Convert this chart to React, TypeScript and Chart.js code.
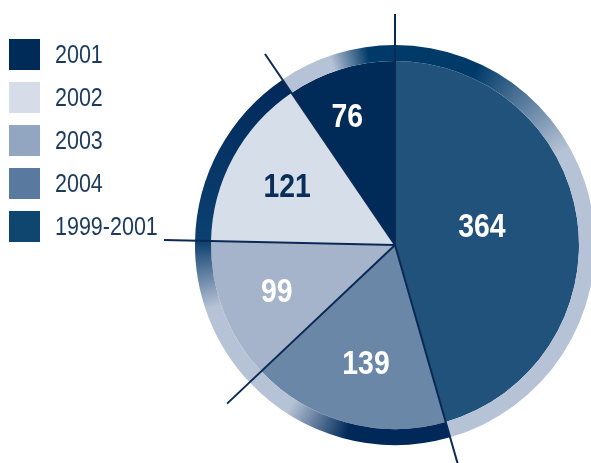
import React, { useEffect, useRef } from "react";
import { Chart, registerables } from "chart.js";
Chart.register(...registerables);

// ---- data ----
const categories = ["1999-2001", "2004", "2003", "2002", "2001"];
const values = [364, 139, 99, 121, 76];
const legendOrder = ["2001", "2002", "2003", "2004", "1999-2001"];

// ---- styles ----
const sliceColors = ["#20527c", "#6a87a8", "#a5b4cb", "#d6dee9", "#002a57"];
const legendColors = ["#002a57", "#d6dde8", "#93a6c1", "#5a799f", "#0e4670"]; // in legendOrder
const labelColors = ["#ffffff", "#ffffff", "#ffffff", "#0a2d5a", "#ffffff"];
const labelPlace = [
  { r: 0.485, da: -5 },
  { r: 0.655, da: -1.4 },
  { r: 0.688, da: 0 },
  { r: 0.671, da: 0.6 },
  { r: 0.753, da: -3 },
];
const DARK1 = "#003a68";
const DARK2 = "#00295a";
const LIGHT = "#b6c2d5";
const rimStops: [number, string][][] = [
  [[0, DARK1], [0.15, DARK1], [0.37, LIGHT], [1, LIGHT]],
  [[0, DARK2], [0.48, DARK2], [0.78, LIGHT], [1, LIGHT]],
  [[0, LIGHT], [0.55, LIGHT], [1, "#0b3f6e"]],
  [[0, "#0b4070"], [1, DARK2]],
  [[0, LIGHT], [0.44, LIGHT], [0.77, DARK1], [1, DARK1]],
];
const OUTER_R = 200;
const RIM_W = 16;
const PIE_W = 184;
const LINE_LEN = 231;
const LINE_COLOR = "#0a2a55";
const FONT = "'Liberation Sans', Arial, sans-serif";
const NARROW_X = 0.86;

function rimGradient(ctx: any) {
  const chart = ctx.chart;
  const a = chart.chartArea;
  if (!a) return LIGHT;
  const cx = (a.left + a.right) / 2;
  const cy = (a.top + a.bottom) / 2;
  const g = chart.ctx.createConicGradient(-Math.PI / 2, cx, cy);
  const total = values.reduce((s, v) => s + v, 0);
  let start = 0;
  values.forEach((v, i) => {
    rimStops[i].forEach(([f, c]) => {
      g.addColorStop(Math.min(1, Math.max(0, (start + f * v) / total)), c);
    });
    start += v;
  });
  return g;
}

const boundaryPlugin = {
  id: "boundaries",
  afterDatasetsDraw(chart: any) {
    const meta = chart.getDatasetMeta(1);
    const ctx = chart.ctx;
    ctx.save();
    ctx.strokeStyle = LINE_COLOR;
    ctx.lineWidth = 2;
    meta.data.forEach((arc: any) => {
      const { x, y, startAngle } = arc.getProps(["x", "y", "startAngle"], true);
      ctx.beginPath();
      ctx.moveTo(x, y);
      ctx.lineTo(x + LINE_LEN * Math.cos(startAngle), y + LINE_LEN * Math.sin(startAngle));
      ctx.stroke();
    });
    ctx.restore();
  },
};

const labelPlugin = {
  id: "sliceLabels",
  afterDatasetsDraw(chart: any) {
    const meta = chart.getDatasetMeta(1);
    const ctx = chart.ctx;
    const fs = 33;
    meta.data.forEach((arc: any, i: number) => {
      const { x, y, startAngle, endAngle, outerRadius } = arc.getProps(
        ["x", "y", "startAngle", "endAngle", "outerRadius"],
        true
      );
      const p = labelPlace[i];
      const mid = (startAngle + endAngle) / 2 + (p.da * Math.PI) / 180;
      const r = outerRadius * p.r;
      const lx = x + r * Math.cos(mid);
      const ly = y + r * Math.sin(mid);
      ctx.save();
      ctx.translate(lx, ly);
      ctx.scale(NARROW_X, 1);
      ctx.font = `bold ${fs}px ${FONT}`;
      ctx.textAlign = "center";
      ctx.textBaseline = "alphabetic";
      ctx.fillStyle = labelColors[i];
      ctx.fillText(String(values[i]), 0, fs * 0.358);
      ctx.restore();
    });
  },
};

export default function App() {
  const ref = useRef<HTMLCanvasElement>(null);
  useEffect(() => {
    document.body.style.margin = "0";
    const canvas = ref.current!;
    const chart = new Chart(canvas, {
      type: "pie",
      data: {
        labels: categories,
        datasets: [
          {
            data: values,
            backgroundColor: rimGradient as any,
            borderWidth: 0,
            weight: RIM_W,
            radius: OUTER_R,
          } as any,
          {
            data: values,
            backgroundColor: sliceColors,
            borderWidth: 0,
            weight: PIE_W,
            radius: OUTER_R,
          } as any,
        ],
      },
      options: {
        responsive: false,
        animation: false,
        layout: { padding: { left: 199, right: 0, top: 27, bottom: 0 } },
        plugins: { legend: { display: false }, tooltip: { enabled: false } },
      },
      plugins: [boundaryPlugin, labelPlugin],
    });
    return () => chart.destroy();
  }, []);

  return (
    <div style={{ position: "relative", width: 591, height: 463, overflow: "hidden", background: "#ffffff" }}>
      <canvas ref={ref} width={591} height={463} style={{ position: "absolute", left: 0, top: 0 }} />
      {legendOrder.map((name, i) => (
        <div
          key={name}
          style={{
            position: "absolute",
            left: 9,
            top: 39 + i * 43,
            height: 31,
            display: "flex",
            alignItems: "center",
            whiteSpace: "nowrap",
          }}
        >
          <div style={{ width: 31, height: 31, background: legendColors[i] }} />
          <span
            style={{
              marginLeft: 15,
              fontFamily: FONT,
              fontSize: 25,
              color: "#1b3a5e",
              lineHeight: "31px",
              display: "inline-block",
              transform: `scaleX(${NARROW_X})`,
              transformOrigin: "left center",
            }}
          >
            {name}
          </span>
        </div>
      ))}
    </div>
  );
}
